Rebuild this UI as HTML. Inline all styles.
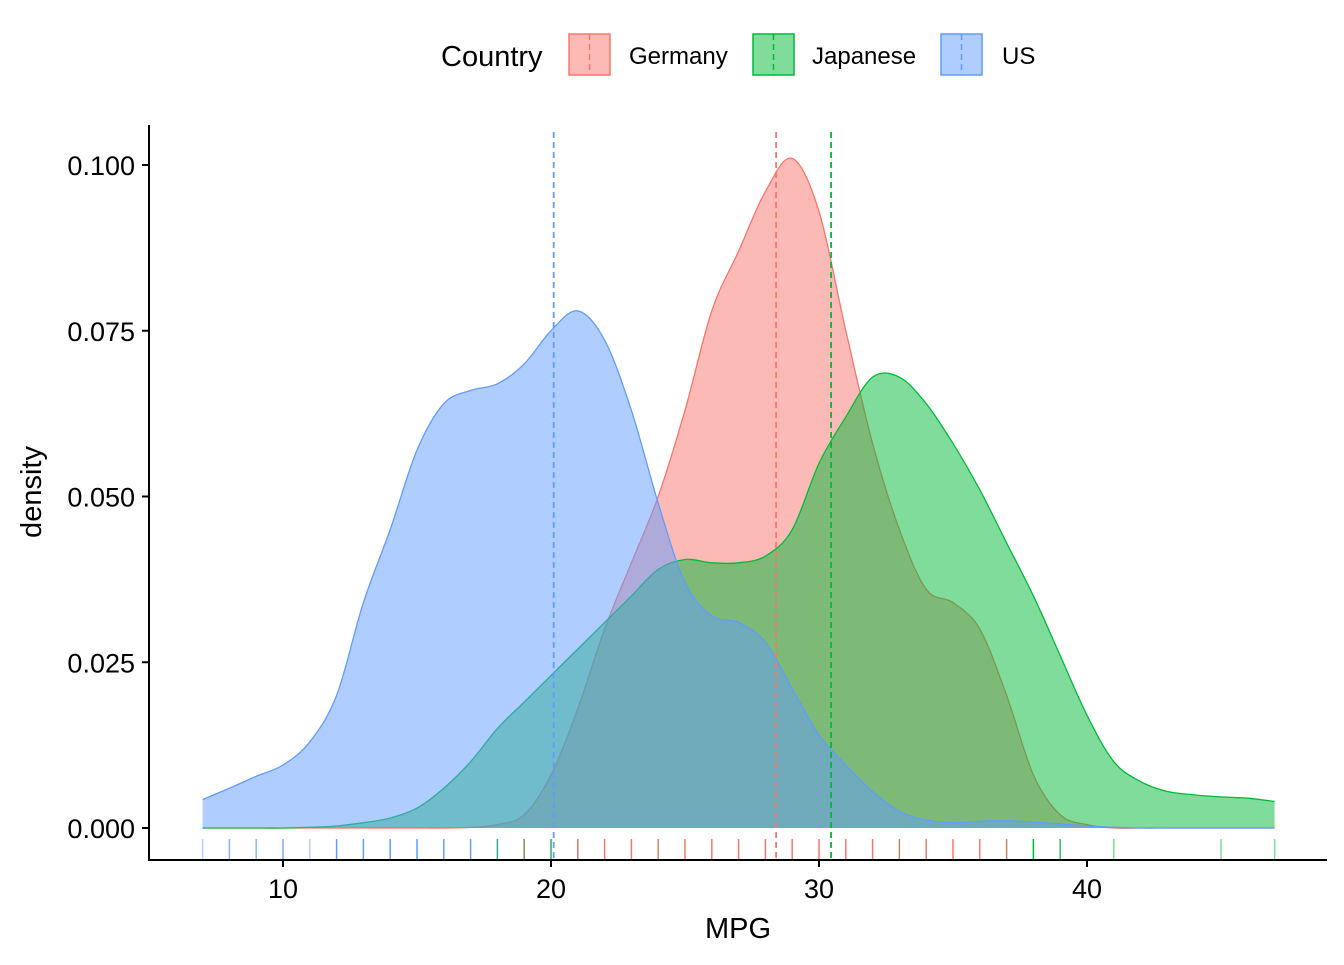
<!DOCTYPE html>
<html><head><meta charset="utf-8"><style>
body{margin:0;background:#fff}
svg text{font-family:"Liberation Sans",Arial,sans-serif;fill:#000}
</style></head><body>
<svg id="c" width="1344" height="960" xmlns="http://www.w3.org/2000/svg"></svg>
<script>
const xs=[7,8,9,10,11,12,13,14,15,16,17,18,19,20,21,22,23,24,25,26,27,28,29,30,31,32,33,34,35,36,37,38,39,40,41,42,43,44,45,46,47];
const usDensity=[0.0043,0.006,0.0078,0.0095,0.013,0.02,0.034,0.045,0.057,0.064,0.066,0.067,0.07,0.075,0.078,0.0736,0.063,0.049,0.037,0.032,0.031,0.028,0.021,0.014,0.0095,0.0055,0.0025,0.0012,0.0008,0.001,0.0011,0.0009,0.0006,0.0003,0.0001,0,0,0,0,0,0];
const germanyDensity=[0,0,0,0,0,0,0,0,0,0,0.0001,0.0005,0.002,0.008,0.018,0.03,0.04,0.05,0.063,0.078,0.087,0.096,0.101,0.093,0.075,0.058,0.045,0.036,0.034,0.03,0.02,0.008,0.002,0.0005,0,0,0,0,0,0,0];
const japaneseDensity=[0,0,0,0,0.0001,0.0003,0.0008,0.0015,0.003,0.006,0.01,0.015,0.019,0.023,0.027,0.031,0.035,0.039,0.0405,0.04,0.04,0.041,0.045,0.055,0.062,0.068,0.068,0.064,0.058,0.051,0.043,0.035,0.026,0.017,0.01,0.007,0.0055,0.005,0.0047,0.0045,0.004];
const means=[28.4,30.45,20.1];
const rugValues=[7,8,9,10,11,12,13,14,15,16,17,18,19,20,21,22,23,24,25,26,27,28,29,30,31,32,33,34,35,36,37,38,39,41,45,47];
const rugColors=["#b5cdff","#8db4ff","#8db4ff","#7aa8ff","#b5cdff","#619CFF","#619CFF","#619CFF","#619CFF","#619CFF","#619CFF","#3aa58f","#8a8a5a","#1fb36a","#c48070","#F8766D","#F8766D","#e0806a","#F8766D","#F8766D","#F8766D","#F8766D","#F8766D","#F8766D","#F8766D","#F8766D","#c08860","#e0806a","#F8766D","#F8766D","#c08860","#00BA38","#30c060","#80da98","#80da98","#80da98"];
const xTicks=[10,20,30,40];
const yTicks=[0,0.025,0.05,0.075,0.1];
const yLabels=["0.000","0.025","0.050","0.075","0.100"];
const names=["Germany","Japanese","US"];
const cols=["#F8766D","#00BA38","#619CFF"];
const X=v=>283+(v-10)*26.8, Y=v=>828-v*6630;
const svg=document.getElementById('c');const NS="http://www.w3.org/2000/svg";
function mk(t,a,p){const e=document.createElementNS(NS,t);for(const k in a)e.setAttribute(k,a[k]);(p||svg).appendChild(e);return e;}
function smooth(pts){let d=`M${pts[0][0]},${pts[0][1]}`;for(let i=0;i<pts.length-1;i++){const p0=pts[Math.max(0,i-1)],p1=pts[i],p2=pts[i+1],p3=pts[Math.min(pts.length-1,i+2)];d+=` C${p1[0]+(p2[0]-p0[0])/6},${p1[1]+(p2[1]-p0[1])/6} ${p2[0]-(p3[0]-p1[0])/6},${p2[1]-(p3[1]-p1[1])/6} ${p2[0]},${p2[1]}`;}return d;}
[germanyDensity,japaneseDensity,usDensity].forEach((s,k)=>{
 const pts=xs.map((x,i)=>[X(x),Y(s[i])]);
 const line=smooth(pts);
 const a=mk('path',{d:line+` L${X(xs[xs.length-1])},${Y(0)} L${X(xs[0])},${Y(0)} Z`,fill:cols[k],'fill-opacity':0.5,stroke:'none'});
 
 
 const l=mk('path',{d:line,fill:'none',stroke:cols[k],'stroke-width':1.3});
 
 
});
means.forEach((m,k)=>{const l=mk('line',{x1:X(m),x2:X(m),y1:132,y2:860,stroke:cols[k],'stroke-width':1.8,'stroke-dasharray':'6,4'});
 
 });
rugValues.forEach((v,i)=>{const l=mk('line',{x1:X(v),x2:X(v),y1:839,y2:859,stroke:rugColors[i],'stroke-width':1.5});
 
 });
let ax=mk('line',{x1:149,x2:149,y1:125,y2:861,stroke:'#000','stroke-width':2});

ax=mk('line',{x1:148,x2:1327,y1:860,y2:860,stroke:'#000','stroke-width':2});

xTicks.forEach(v=>{mk('line',{x1:X(v),x2:X(v),y1:860,y2:867,stroke:'#000','stroke-width':2});
 const t=mk('text',{x:X(v),y:898,'text-anchor':'middle','font-size':27});t.textContent=v;
 });
yTicks.forEach((v,i)=>{mk('line',{x1:142,x2:149,y1:Y(v),y2:Y(v),stroke:'#000','stroke-width':2});
 const t=mk('text',{x:135,y:Y(v)+10,'text-anchor':'end','font-size':27});t.textContent=yLabels[i];
 });
let t=mk('text',{x:738,y:938,'text-anchor':'middle','font-size':29});t.textContent='MPG';

t=mk('text',{x:0,y:0,'text-anchor':'middle','font-size':29,transform:'translate(41,492) rotate(-90)'});t.textContent='density';

t=mk('text',{x:441,y:66,'font-size':29});t.textContent='Country';

const kx=[568,752,940],lx=[629,812,1002];
names.forEach((n,k)=>{const g=mk('g',{});
 
 mk('rect',{x:kx[k]+1,y:34,width:41,height:41,fill:cols[k],'fill-opacity':0.5,stroke:cols[k],'stroke-width':1.5},g);
 mk('line',{x1:kx[k]+21.5,x2:kx[k]+21.5,y1:34,y2:75,stroke:cols[k],'stroke-width':1.5,'stroke-dasharray':'6,4'},g);
 const tt=mk('text',{x:lx[k],y:64,'font-size':24},g);tt.textContent=n;});
</script>
</body></html>
